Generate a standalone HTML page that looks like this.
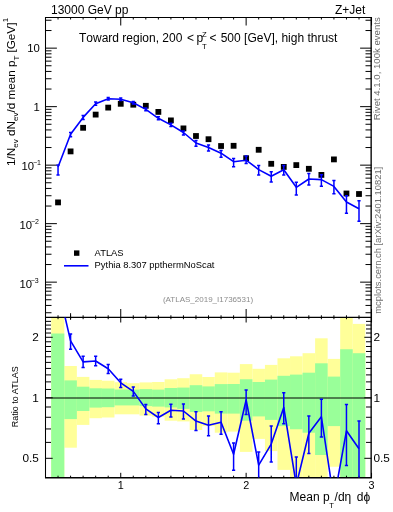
<!DOCTYPE html>
<html><head><meta charset="utf-8"><style>html,body{margin:0;padding:0;background:#fff;overflow:hidden}svg{display:block;will-change:transform}</style></head>
<body><svg width="393" height="512" viewBox="0 0 393 512">
<rect x="51.20" y="318.00" width="13.11" height="160.00" fill="#ffff99"/>
<rect x="64.31" y="366.00" width="12.54" height="81.70" fill="#ffff99"/>
<rect x="76.85" y="376.90" width="12.54" height="48.00" fill="#ffff99"/>
<rect x="89.39" y="379.90" width="12.54" height="38.30" fill="#ffff99"/>
<rect x="101.93" y="380.70" width="12.54" height="36.80" fill="#ffff99"/>
<rect x="114.47" y="382.20" width="12.54" height="32.10" fill="#ffff99"/>
<rect x="127.01" y="383.20" width="12.54" height="31.10" fill="#ffff99"/>
<rect x="139.55" y="382.40" width="12.54" height="33.20" fill="#ffff99"/>
<rect x="152.09" y="382.00" width="12.54" height="34.75" fill="#ffff99"/>
<rect x="164.63" y="379.30" width="12.54" height="41.40" fill="#ffff99"/>
<rect x="177.17" y="378.20" width="12.54" height="43.20" fill="#ffff99"/>
<rect x="189.71" y="374.25" width="12.54" height="55.75" fill="#ffff99"/>
<rect x="202.25" y="377.00" width="12.54" height="49.10" fill="#ffff99"/>
<rect x="214.79" y="372.40" width="12.54" height="60.30" fill="#ffff99"/>
<rect x="227.33" y="372.70" width="12.54" height="58.90" fill="#ffff99"/>
<rect x="239.87" y="364.10" width="12.54" height="87.80" fill="#ffff99"/>
<rect x="252.41" y="368.80" width="12.54" height="70.10" fill="#ffff99"/>
<rect x="264.95" y="364.90" width="12.54" height="86.20" fill="#ffff99"/>
<rect x="277.49" y="358.30" width="12.54" height="111.60" fill="#ffff99"/>
<rect x="290.03" y="356.30" width="12.54" height="121.70" fill="#ffff99"/>
<rect x="302.57" y="353.20" width="12.54" height="124.80" fill="#ffff99"/>
<rect x="315.11" y="338.30" width="12.54" height="139.70" fill="#ffff99"/>
<rect x="327.65" y="358.90" width="12.54" height="107.85" fill="#ffff99"/>
<rect x="340.19" y="318.00" width="12.54" height="160.00" fill="#ffff99"/>
<rect x="352.73" y="323.90" width="12.54" height="154.10" fill="#ffff99"/>
<rect x="51.20" y="333.50" width="13.11" height="144.50" fill="#99ff99"/>
<rect x="64.31" y="380.40" width="12.54" height="38.70" fill="#99ff99"/>
<rect x="76.85" y="386.70" width="12.54" height="24.30" fill="#99ff99"/>
<rect x="89.39" y="388.30" width="12.54" height="19.30" fill="#99ff99"/>
<rect x="101.93" y="388.50" width="12.54" height="18.70" fill="#99ff99"/>
<rect x="114.47" y="389.50" width="12.54" height="15.90" fill="#99ff99"/>
<rect x="127.01" y="389.60" width="12.54" height="15.80" fill="#99ff99"/>
<rect x="139.55" y="389.10" width="12.54" height="17.00" fill="#99ff99"/>
<rect x="152.09" y="389.60" width="12.54" height="17.00" fill="#99ff99"/>
<rect x="164.63" y="388.00" width="12.54" height="19.40" fill="#99ff99"/>
<rect x="177.17" y="387.60" width="12.54" height="21.30" fill="#99ff99"/>
<rect x="189.71" y="385.20" width="12.54" height="26.80" fill="#99ff99"/>
<rect x="202.25" y="386.40" width="12.54" height="24.90" fill="#99ff99"/>
<rect x="214.79" y="384.10" width="12.54" height="29.50" fill="#99ff99"/>
<rect x="227.33" y="384.00" width="12.54" height="29.60" fill="#99ff99"/>
<rect x="239.87" y="379.25" width="12.54" height="41.45" fill="#99ff99"/>
<rect x="252.41" y="382.00" width="12.54" height="34.40" fill="#99ff99"/>
<rect x="264.95" y="379.60" width="12.54" height="40.30" fill="#99ff99"/>
<rect x="277.49" y="375.80" width="12.54" height="50.30" fill="#99ff99"/>
<rect x="290.03" y="374.60" width="12.54" height="54.65" fill="#99ff99"/>
<rect x="302.57" y="372.70" width="12.54" height="60.00" fill="#99ff99"/>
<rect x="315.11" y="363.30" width="12.54" height="91.70" fill="#99ff99"/>
<rect x="327.65" y="376.60" width="12.54" height="49.50" fill="#99ff99"/>
<rect x="340.19" y="349.25" width="12.54" height="128.75" fill="#99ff99"/>
<rect x="352.73" y="353.20" width="12.54" height="124.80" fill="#99ff99"/>
<line x1="45.5" y1="398" x2="371.5" y2="398" stroke="#000" stroke-width="1"/>
<path d="M58.04 17.50L58.04 19.50M58.04 317.50L58.04 315.30M58.04 317.50L58.04 319.20M58.04 477.50L58.04 475.70M70.58 17.50L70.58 19.50M70.58 317.50L70.58 315.30M70.58 317.50L70.58 319.20M70.58 477.50L70.58 475.70M83.12 17.50L83.12 19.50M83.12 317.50L83.12 315.30M83.12 317.50L83.12 319.20M83.12 477.50L83.12 475.70M95.66 17.50L95.66 19.50M95.66 317.50L95.66 315.30M95.66 317.50L95.66 319.20M95.66 477.50L95.66 475.70M108.20 17.50L108.20 19.50M108.20 317.50L108.20 315.30M108.20 317.50L108.20 319.20M108.20 477.50L108.20 475.70M120.74 17.50L120.74 25.50M120.74 317.50L120.74 309.00M120.74 317.50L120.74 322.50M120.74 477.50L120.74 472.80M133.28 17.50L133.28 19.50M133.28 317.50L133.28 315.30M133.28 317.50L133.28 319.20M133.28 477.50L133.28 475.70M145.82 17.50L145.82 19.50M145.82 317.50L145.82 315.30M145.82 317.50L145.82 319.20M145.82 477.50L145.82 475.70M158.36 17.50L158.36 19.50M158.36 317.50L158.36 315.30M158.36 317.50L158.36 319.20M158.36 477.50L158.36 475.70M170.90 17.50L170.90 19.50M170.90 317.50L170.90 315.30M170.90 317.50L170.90 319.20M170.90 477.50L170.90 475.70M183.44 17.50L183.44 19.50M183.44 317.50L183.44 315.30M183.44 317.50L183.44 319.20M183.44 477.50L183.44 475.70M195.98 17.50L195.98 19.50M195.98 317.50L195.98 315.30M195.98 317.50L195.98 319.20M195.98 477.50L195.98 475.70M208.52 17.50L208.52 19.50M208.52 317.50L208.52 315.30M208.52 317.50L208.52 319.20M208.52 477.50L208.52 475.70M221.06 17.50L221.06 19.50M221.06 317.50L221.06 315.30M221.06 317.50L221.06 319.20M221.06 477.50L221.06 475.70M233.60 17.50L233.60 19.50M233.60 317.50L233.60 315.30M233.60 317.50L233.60 319.20M233.60 477.50L233.60 475.70M246.14 17.50L246.14 25.50M246.14 317.50L246.14 309.00M246.14 317.50L246.14 322.50M246.14 477.50L246.14 472.80M258.68 17.50L258.68 19.50M258.68 317.50L258.68 315.30M258.68 317.50L258.68 319.20M258.68 477.50L258.68 475.70M271.22 17.50L271.22 19.50M271.22 317.50L271.22 315.30M271.22 317.50L271.22 319.20M271.22 477.50L271.22 475.70M283.76 17.50L283.76 19.50M283.76 317.50L283.76 315.30M283.76 317.50L283.76 319.20M283.76 477.50L283.76 475.70M296.30 17.50L296.30 19.50M296.30 317.50L296.30 315.30M296.30 317.50L296.30 319.20M296.30 477.50L296.30 475.70M308.84 17.50L308.84 19.50M308.84 317.50L308.84 315.30M308.84 317.50L308.84 319.20M308.84 477.50L308.84 475.70M321.38 17.50L321.38 19.50M321.38 317.50L321.38 315.30M321.38 317.50L321.38 319.20M321.38 477.50L321.38 475.70M333.92 17.50L333.92 19.50M333.92 317.50L333.92 315.30M333.92 317.50L333.92 319.20M333.92 477.50L333.92 475.70M346.46 17.50L346.46 19.50M346.46 317.50L346.46 315.30M346.46 317.50L346.46 319.20M346.46 477.50L346.46 475.70M359.00 17.50L359.00 19.50M359.00 317.50L359.00 315.30M359.00 317.50L359.00 319.20M359.00 477.50L359.00 475.70M371.54 17.50L371.54 25.50M371.54 317.50L371.54 309.00M371.54 317.50L371.54 322.50M371.54 477.50L371.54 472.80M45.50 312.74L51.50 312.74M371.50 312.74L365.50 312.74M45.50 305.43L51.50 305.43M371.50 305.43L365.50 305.43M45.50 299.76L51.50 299.76M371.50 299.76L365.50 299.76M45.50 295.13L51.50 295.13M371.50 295.13L365.50 295.13M45.50 291.21L51.50 291.21M371.50 291.21L365.50 291.21M45.50 287.82L51.50 287.82M371.50 287.82L365.50 287.82M45.50 284.83L51.50 284.83M371.50 284.83L365.50 284.83M45.50 282.15L56.90 282.15M371.50 282.15L360.10 282.15M45.50 264.54L51.50 264.54M371.50 264.54L365.50 264.54M45.50 254.24L51.50 254.24M371.50 254.24L365.50 254.24M45.50 246.93L51.50 246.93M371.50 246.93L365.50 246.93M45.50 241.26L51.50 241.26M371.50 241.26L365.50 241.26M45.50 236.63L51.50 236.63M371.50 236.63L365.50 236.63M45.50 232.71L51.50 232.71M371.50 232.71L365.50 232.71M45.50 229.32L51.50 229.32M371.50 229.32L365.50 229.32M45.50 226.33L51.50 226.33M371.50 226.33L365.50 226.33M45.50 223.65L56.90 223.65M371.50 223.65L360.10 223.65M45.50 206.04L51.50 206.04M371.50 206.04L365.50 206.04M45.50 195.74L51.50 195.74M371.50 195.74L365.50 195.74M45.50 188.43L51.50 188.43M371.50 188.43L365.50 188.43M45.50 182.76L51.50 182.76M371.50 182.76L365.50 182.76M45.50 178.13L51.50 178.13M371.50 178.13L365.50 178.13M45.50 174.21L51.50 174.21M371.50 174.21L365.50 174.21M45.50 170.82L51.50 170.82M371.50 170.82L365.50 170.82M45.50 167.83L51.50 167.83M371.50 167.83L365.50 167.83M45.50 165.15L56.90 165.15M371.50 165.15L360.10 165.15M45.50 147.54L51.50 147.54M371.50 147.54L365.50 147.54M45.50 137.24L51.50 137.24M371.50 137.24L365.50 137.24M45.50 129.93L51.50 129.93M371.50 129.93L365.50 129.93M45.50 124.26L51.50 124.26M371.50 124.26L365.50 124.26M45.50 119.63L51.50 119.63M371.50 119.63L365.50 119.63M45.50 115.71L51.50 115.71M371.50 115.71L365.50 115.71M45.50 112.32L51.50 112.32M371.50 112.32L365.50 112.32M45.50 109.33L51.50 109.33M371.50 109.33L365.50 109.33M45.50 106.65L56.90 106.65M371.50 106.65L360.10 106.65M45.50 89.04L51.50 89.04M371.50 89.04L365.50 89.04M45.50 78.74L51.50 78.74M371.50 78.74L365.50 78.74M45.50 71.43L51.50 71.43M371.50 71.43L365.50 71.43M45.50 65.76L51.50 65.76M371.50 65.76L365.50 65.76M45.50 61.13L51.50 61.13M371.50 61.13L365.50 61.13M45.50 57.21L51.50 57.21M371.50 57.21L365.50 57.21M45.50 53.82L51.50 53.82M371.50 53.82L365.50 53.82M45.50 50.83L51.50 50.83M371.50 50.83L365.50 50.83M45.50 48.15L56.90 48.15M371.50 48.15L360.10 48.15M45.50 30.54L51.50 30.54M371.50 30.54L365.50 30.54M45.50 20.24L51.50 20.24M371.50 20.24L365.50 20.24M45.50 458.31L52.70 458.31M371.50 458.31L364.30 458.31M45.50 442.40L51.00 442.40M371.50 442.40L366.00 442.40M45.50 428.94L51.00 428.94M371.50 428.94L366.00 428.94M45.50 417.28L51.00 417.28M371.50 417.28L366.00 417.28M45.50 407.00L51.00 407.00M371.50 407.00L366.00 407.00M45.50 397.80L52.70 397.80M371.50 397.80L364.30 397.80M45.50 389.48L51.00 389.48M371.50 389.48L366.00 389.48M45.50 381.88L51.00 381.88M371.50 381.88L366.00 381.88M45.50 374.90L51.00 374.90M371.50 374.90L366.00 374.90M45.50 368.43L51.00 368.43M371.50 368.43L366.00 368.43M45.50 362.40L51.00 362.40M371.50 362.40L366.00 362.40M45.50 356.77L51.00 356.77M371.50 356.77L366.00 356.77M45.50 351.48L51.00 351.48M371.50 351.48L366.00 351.48M45.50 346.49L51.00 346.49M371.50 346.49L366.00 346.49M45.50 341.77L51.00 341.77M371.50 341.77L366.00 341.77M45.50 337.29L52.70 337.29M371.50 337.29L364.30 337.29M45.50 333.03L51.00 333.03M371.50 333.03L366.00 333.03M45.50 328.97L51.00 328.97M371.50 328.97L366.00 328.97M45.50 325.09L51.00 325.09M371.50 325.09L366.00 325.09M45.50 321.37L51.00 321.37M371.50 321.37L366.00 321.37M70.58 313.20L70.58 319.80" stroke="#000" stroke-width="1" fill="none"/>
<line x1="45.5" y1="17.0" x2="45.5" y2="478.0" stroke="#000" stroke-width="1.05"/>
<line x1="371.15" y1="17.0" x2="371.15" y2="478.0" stroke="#000" stroke-width="1.35"/>
<line x1="45.0" y1="17.5" x2="372.0" y2="17.5" stroke="#000" stroke-width="1.05"/>
<line x1="45.0" y1="317.4" x2="372.0" y2="317.4" stroke="#000" stroke-width="1.15"/>
<line x1="45.0" y1="477.75" x2="372.0" y2="477.75" stroke="#000" stroke-width="1.3"/>
<rect x="55.14" y="199.50" width="5.8" height="5.8" fill="#000"/>
<rect x="67.68" y="148.50" width="5.8" height="5.8" fill="#000"/>
<rect x="80.22" y="124.90" width="5.8" height="5.8" fill="#000"/>
<rect x="92.76" y="111.70" width="5.8" height="5.8" fill="#000"/>
<rect x="105.30" y="104.70" width="5.8" height="5.8" fill="#000"/>
<rect x="117.84" y="100.90" width="5.8" height="5.8" fill="#000"/>
<rect x="130.38" y="101.80" width="5.8" height="5.8" fill="#000"/>
<rect x="142.92" y="102.90" width="5.8" height="5.8" fill="#000"/>
<rect x="155.46" y="109.00" width="5.8" height="5.8" fill="#000"/>
<rect x="168.00" y="117.50" width="5.8" height="5.8" fill="#000"/>
<rect x="180.54" y="125.50" width="5.8" height="5.8" fill="#000"/>
<rect x="193.08" y="133.10" width="5.8" height="5.8" fill="#000"/>
<rect x="205.62" y="136.30" width="5.8" height="5.8" fill="#000"/>
<rect x="218.16" y="143.10" width="5.8" height="5.8" fill="#000"/>
<rect x="230.70" y="142.90" width="5.8" height="5.8" fill="#000"/>
<rect x="243.24" y="155.30" width="5.8" height="5.8" fill="#000"/>
<rect x="255.78" y="146.90" width="5.8" height="5.8" fill="#000"/>
<rect x="268.32" y="160.90" width="5.8" height="5.8" fill="#000"/>
<rect x="280.86" y="164.00" width="5.8" height="5.8" fill="#000"/>
<rect x="293.40" y="162.20" width="5.8" height="5.8" fill="#000"/>
<rect x="305.94" y="165.90" width="5.8" height="5.8" fill="#000"/>
<rect x="318.48" y="172.00" width="5.8" height="5.8" fill="#000"/>
<rect x="331.02" y="156.50" width="5.8" height="5.8" fill="#000"/>
<rect x="343.56" y="190.60" width="5.8" height="5.8" fill="#000"/>
<rect x="356.10" y="191.10" width="5.8" height="5.8" fill="#000"/>
<path d="M58.04 165.10L58.04 174.90M56.44 165.10L59.64 165.10M56.44 174.90L59.64 174.90M70.58 132.40L70.58 136.80M68.98 132.40L72.18 132.40M68.98 136.80L72.18 136.80M83.12 115.40L83.12 119.50M81.52 115.40L84.72 115.40M81.52 119.50L84.72 119.50M95.66 102.00L95.66 105.30M94.06 102.00L97.26 102.00M94.06 105.30L97.26 105.30M108.20 97.50L108.20 100.00M106.60 97.50L109.80 97.50M106.60 100.00L109.80 100.00M120.74 98.00L120.74 100.40M119.14 98.00L122.34 98.00M119.14 100.40L122.34 100.40M133.28 101.50L133.28 104.00M131.68 101.50L134.88 101.50M131.68 104.00L134.88 104.00M145.82 108.00L145.82 110.80M144.22 108.00L147.42 108.00M144.22 110.80L147.42 110.80M158.36 116.80L158.36 119.80M156.76 116.80L159.96 116.80M156.76 119.80L159.96 119.80M170.90 123.20L170.90 126.60M169.30 123.20L172.50 123.20M169.30 126.60L172.50 126.60M183.44 131.00L183.44 135.00M181.84 131.00L185.04 131.00M181.84 135.00L185.04 135.00M195.98 140.40L195.98 146.20M194.38 140.40L197.58 140.40M194.38 146.20L197.58 146.20M208.52 144.90L208.52 150.90M206.92 144.90L210.12 144.90M206.92 150.90L210.12 150.90M221.06 150.40L221.06 157.20M219.46 150.40L222.66 150.40M219.46 157.20L222.66 157.20M233.60 158.50L233.60 166.80M232.00 158.50L235.20 158.50M232.00 166.80L235.20 166.80M246.14 156.00L246.14 163.60M244.54 156.00L247.74 156.00M244.54 163.60L247.74 163.60M258.68 165.40L258.68 174.90M257.08 165.40L260.28 165.40M257.08 174.90L260.28 174.90M271.22 171.70L271.22 182.10M269.62 171.70L272.82 171.70M269.62 182.10L272.82 182.10M283.76 165.40L283.76 174.90M282.16 165.40L285.36 165.40M282.16 174.90L285.36 174.90M296.30 182.20L296.30 195.00M294.70 182.20L297.90 182.20M294.70 195.00L297.90 195.00M308.84 173.50L308.84 185.00M307.24 173.50L310.44 173.50M307.24 185.00L310.44 185.00M321.38 174.70L321.38 186.20M319.78 174.70L322.98 174.70M319.78 186.20L322.98 186.20M333.92 180.60L333.92 193.80M332.32 180.60L335.52 180.60M332.32 193.80L335.52 193.80M346.46 195.70L346.46 213.20M344.86 195.70L348.06 195.70M344.86 213.20L348.06 213.20M359.00 200.80L359.00 221.20M357.40 200.80L360.60 200.80M357.40 221.20L360.60 221.20" stroke="#0000ff" stroke-width="1.5" fill="none"/>
<polyline points="58.04,167.00 70.58,134.30 83.12,117.40 95.66,103.70 108.20,98.70 120.74,99.20 133.28,102.80 145.82,109.40 158.36,118.30 170.90,124.90 183.44,132.50 195.98,143.00 208.52,147.40 221.06,153.20 233.60,161.70 246.14,160.20 258.68,169.60 271.22,176.20 283.76,169.80 296.30,187.30 308.84,179.00 321.38,179.60 333.92,186.40 346.46,202.00 359.00,208.80" stroke="#0000ff" stroke-width="1.6" fill="none" stroke-linejoin="round"/>
<clipPath id="rc"><rect x="45.5" y="317.5" width="326.00" height="160.00"/></clipPath>
<g clip-path="url(#rc)">
<path d="M70.58 333.90L70.58 349.20M68.98 333.90L72.18 333.90M68.98 349.20L72.18 349.20M83.12 356.20L83.12 367.60M81.52 356.20L84.72 356.20M81.52 367.60L84.72 367.60M95.66 356.30L95.66 365.70M94.06 356.30L97.26 356.30M94.06 365.70L97.26 365.70M108.20 364.60L108.20 373.50M106.60 364.60L109.80 364.60M106.60 373.50L109.80 373.50M120.74 379.30L120.74 387.50M119.14 379.30L122.34 379.30M119.14 387.50L122.34 387.50M133.28 387.00L133.28 396.00M131.68 387.00L134.88 387.00M131.68 396.00L134.88 396.00M145.82 404.60L145.82 414.40M144.22 404.60L147.42 404.60M144.22 414.40L147.42 414.40M158.36 412.40L158.36 423.80M156.76 412.40L159.96 412.40M156.76 423.80L159.96 423.80M170.90 404.30L170.90 417.00M169.30 404.30L172.50 404.30M169.30 417.00L172.50 417.00M183.44 404.00L183.44 419.10M181.84 404.00L185.04 404.00M181.84 419.10L185.04 419.10M195.98 411.75L195.98 430.50M194.38 411.75L197.58 411.75M194.38 430.50L197.58 430.50M208.52 416.00L208.52 435.80M206.92 416.00L210.12 416.00M206.92 435.80L210.12 435.80M221.06 411.75L221.06 434.25M219.46 411.75L222.66 411.75M219.46 434.25L222.66 434.25M233.60 443.00L233.60 470.20M232.00 443.00L235.20 443.00M232.00 470.20L235.20 470.20M246.14 390.00L246.14 414.40M244.54 390.00L247.74 390.00M244.54 414.40L247.74 414.40M258.68 451.90L258.68 482.00M257.08 451.90L260.28 451.90M257.08 482.00L260.28 482.00M271.22 426.00L271.22 462.00M269.62 426.00L272.82 426.00M269.62 462.00L272.82 462.00M283.76 392.70L283.76 423.80M282.16 392.70L285.36 392.70M282.16 423.80L285.36 423.80M296.30 457.00L296.30 500.00M294.70 457.00L297.90 457.00M294.70 500.00L297.90 500.00M308.84 416.00L308.84 453.50M307.24 416.00L310.44 416.00M307.24 453.50L310.44 453.50M321.38 399.25L321.38 437.00M319.78 399.25L322.98 399.25M319.78 437.00L322.98 437.00M333.92 480.00L333.92 520.00M332.32 480.00L335.52 480.00M332.32 520.00L335.52 520.00M346.46 404.60L346.46 465.50M344.86 404.60L348.06 404.60M344.86 465.50L348.06 465.50M359.00 421.00L359.00 490.00M357.40 421.00L360.60 421.00M357.40 490.00L360.60 490.00" stroke="#0000ff" stroke-width="1.5" fill="none"/>
<polyline points="58.04,287.00 70.58,340.90 83.12,361.90 95.66,361.00 108.20,368.80 120.74,382.80 133.28,391.40 145.82,408.90 158.36,417.50 170.90,410.20 183.44,411.00 195.98,421.10 208.52,425.30 221.06,422.20 233.60,454.25 246.14,400.00 258.68,465.20 271.22,444.10 283.76,407.40 296.30,485.00 308.84,433.20 321.38,416.75 333.92,500.00 346.46,430.80 359.00,448.80" stroke="#0000ff" stroke-width="1.6" fill="none" stroke-linejoin="round"/>
</g>
<g font-family="Liberation Sans, sans-serif" fill="#000">
<text x="51" y="14" font-size="12">13000 GeV pp</text>
<text x="335" y="13.5" font-size="12">Z+Jet</text>
<g font-size="12" style="font-kerning:none">
<text x="79" y="42">Toward region, 200</text>
<text x="186.9" y="42">&lt;</text>
<text x="196.5" y="42">p</text>
<text x="202" y="36.7" font-size="7.7">Z</text>
<text x="202" y="48.9" font-size="7.7">T</text>
<text x="209.6" y="42">&lt;</text>
<text x="220.7" y="42">500 [GeV], high thrust</text>
</g>
<text x="39.8" y="51.90" font-size="11.3" text-anchor="end">10</text>
<text x="39.8" y="110.90" font-size="11.3" text-anchor="end">1</text>
<text x="21.4" y="169.80" font-size="11.3">10</text><text x="33.0" y="165.20" font-size="7">−1</text>
<text x="19.5" y="229.00" font-size="11.3">10</text><text x="31.0" y="224.40" font-size="7">−2</text>
<text x="19.5" y="288.00" font-size="11.3">10</text><text x="30.7" y="283.40" font-size="7">−3</text>
<text x="38.8" y="341.49" font-size="11.8" text-anchor="end">2</text>
<text x="373.5" y="341.49" font-size="11.8">2</text>
<text x="38.8" y="401.50" font-size="11.8" text-anchor="end">1</text>
<text x="373.5" y="401.50" font-size="11.8">1</text>
<text x="38.8" y="461.71" font-size="11.8" text-anchor="end">0.5</text>
<text x="373.5" y="461.71" font-size="11.8">0.5</text>
<text x="120.74" y="488.8" font-size="10.8" text-anchor="middle">1</text>
<text x="246.14" y="488.8" font-size="10.8" text-anchor="middle">2</text>
<text x="371.54" y="488.8" font-size="10.8" text-anchor="middle">3</text>
<g font-size="12" style="font-kerning:none">
<text x="289.6" y="501.4">Mean p</text>
<text x="329.2" y="507.9" font-size="7.7">T</text>
<text x="334.6" y="501.4">/dη</text>
<text x="356.8" y="501.4">dϕ</text>
</g>
<text transform="translate(14.6,165.9) rotate(-90)" font-size="11.7" style="font-kerning:none">1/N<tspan font-size="8" dy="3.5">ev</tspan><tspan dy="-3.5"> dN</tspan><tspan font-size="8" dy="3.5">ev</tspan><tspan dy="-3.5">/d mean p</tspan><tspan font-size="8" dy="4">T</tspan><tspan dy="-4"> [GeV]</tspan><tspan font-size="8" dy="-6.3" dx="0.3">1</tspan></text>
<text transform="translate(17.9,427.2) rotate(-90)" font-size="9">Ratio to ATLAS</text>
<rect x="74" y="250.4" width="5.4" height="5.4" fill="#000"/>
<line x1="64" y1="265.8" x2="88.5" y2="265.8" stroke="#0000ff" stroke-width="1.6"/>
<text x="94.6" y="256.2" font-size="9.4">ATLAS</text>
<text x="94.6" y="268.4" font-size="9.4">Pythia 8.307 ppthermNoScat</text>
</g>
<g font-family="Liberation Sans, sans-serif" fill="#6e6e6e">
<text x="208" y="301.9" font-size="8" text-anchor="middle" fill="#8c8c8c">(ATLAS_2019_I1736531)</text>
<text transform="translate(380.2,120.2) rotate(-90)" font-size="9.6">Rivet 4.1.0, 100k events</text>
<text transform="translate(381,313.75) rotate(-90)" font-size="9.4">mcplots.cern.ch [arXiv:2401.10821]</text>
</g>
</svg></body></html>
